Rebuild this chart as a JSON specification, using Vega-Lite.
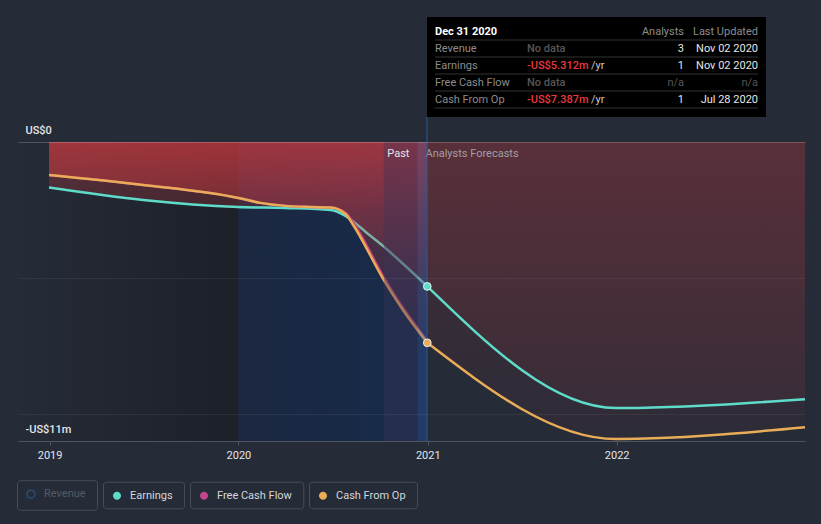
{
  "$schema": "https://vega.github.io/schema/vega-lite/v6.json",
  "width": 787,
  "height": 299,
  "autosize": {"type": "none"},
  "padding": {"left": 18, "top": 142, "right": 16, "bottom": 83},
  "background": "#252b37",
  "config": {
    "view": {"stroke": null},
    "font": "Roboto",
    "text": {"font": "Roboto"},
    "legend": {"labelFont": "Roboto"}
  },
  "datasets": {
    "past": [
      {"date": "2018-12-31", "series": "Earnings", "value": -1.67},
      {"date": "2019-07-01", "series": "Earnings", "value": -2.13},
      {"date": "2020-01-01", "series": "Earnings", "value": -2.39},
      {"date": "2020-04-01", "series": "Earnings", "value": -2.43},
      {"date": "2020-06-27", "series": "Earnings", "value": -2.5},
      {"date": "2020-07-26", "series": "Earnings", "value": -2.72},
      {"date": "2020-08-11", "series": "Earnings", "value": -2.94},
      {"date": "2020-09-03", "series": "Earnings", "value": -3.31},
      {"date": "2020-10-08", "series": "Earnings", "value": -3.85},
      {"date": "2020-11-14", "series": "Earnings", "value": -4.48},
      {"date": "2020-12-31", "series": "Earnings", "value": -5.312},
      {"date": "2018-12-31", "series": "Free Cash Flow", "value": -1.214},
      {"date": "2019-07-01", "series": "Free Cash Flow", "value": -1.58},
      {"date": "2020-01-01", "series": "Free Cash Flow", "value": -2.06},
      {"date": "2020-02-12", "series": "Free Cash Flow", "value": -2.24},
      {"date": "2020-04-01", "series": "Free Cash Flow", "value": -2.35},
      {"date": "2020-05-19", "series": "Free Cash Flow", "value": -2.39},
      {"date": "2020-06-27", "series": "Free Cash Flow", "value": -2.41},
      {"date": "2020-07-26", "series": "Free Cash Flow", "value": -2.6},
      {"date": "2020-08-11", "series": "Free Cash Flow", "value": -3.0},
      {"date": "2020-10-08", "series": "Free Cash Flow", "value": -4.98},
      {"date": "2020-11-14", "series": "Free Cash Flow", "value": -6.1},
      {"date": "2020-12-31", "series": "Free Cash Flow", "value": -7.33},
      {"date": "2018-12-31", "series": "Cash From Op", "value": -1.214},
      {"date": "2019-07-01", "series": "Cash From Op", "value": -1.58},
      {"date": "2020-01-01", "series": "Cash From Op", "value": -2.06},
      {"date": "2020-02-12", "series": "Cash From Op", "value": -2.24},
      {"date": "2020-04-01", "series": "Cash From Op", "value": -2.35},
      {"date": "2020-05-19", "series": "Cash From Op", "value": -2.39},
      {"date": "2020-06-27", "series": "Cash From Op", "value": -2.41},
      {"date": "2020-07-26", "series": "Cash From Op", "value": -2.65},
      {"date": "2020-08-11", "series": "Cash From Op", "value": -3.09},
      {"date": "2020-10-08", "series": "Cash From Op", "value": -5.08},
      {"date": "2020-11-14", "series": "Cash From Op", "value": -6.18},
      {"date": "2020-12-31", "series": "Cash From Op", "value": -7.387}
    ],
    "forecast": [
      {"date": "2020-12-31", "series": "Earnings", "value": -5.312},
      {"date": "2021-12-31", "series": "Earnings", "value": -9.79},
      {"date": "2022-12-31", "series": "Earnings", "value": -9.46},
      {"date": "2020-12-31", "series": "Cash From Op", "value": -7.387},
      {"date": "2021-12-31", "series": "Cash From Op", "value": -10.93},
      {"date": "2022-12-31", "series": "Cash From Op", "value": -10.49}
    ],
    "regions": [
      {"zone": "early", "start": "2018-11-01", "end": "2020-01-01"},
      {"zone": "lastYear", "start": "2020-01-01", "end": "2020-12-31"},
      {"zone": "recent", "start": "2020-10-08", "end": "2020-12-12"},
      {"zone": "today", "start": "2020-12-12", "end": "2020-12-31"}
    ],
    "tip": [
      {"row": "header", "label": "Dec 31 2020", "estimate": "", "unit": "", "analysts": "Analysts", "updated": "Last Updated"},
      {"row": "Revenue", "label": "Revenue", "estimate": "No data", "unit": "", "analysts": "3", "updated": "Nov 02 2020"},
      {"row": "Earnings", "label": "Earnings", "estimate": "-US$5.312m", "unit": "/yr", "analysts": "1", "updated": "Nov 02 2020"},
      {"row": "Free Cash Flow", "label": "Free Cash Flow", "estimate": "No data", "unit": "", "analysts": "n/a", "updated": "n/a"},
      {"row": "Cash From Op", "label": "Cash From Op", "estimate": "-US$7.387m", "unit": "/yr", "analysts": "1", "updated": "Jul 28 2020"}
    ]
  },
  "layer": [
    {
      "layer": [
        {
          "data": {"name": "regions"},
          "transform": [{"filter": "datum.zone == 'early'"}],
          "mark": {"type": "rect", "color": {"gradient": "linear", "x1": 0, "y1": 0, "x2": 1, "y2": 0, "stops": [{"offset": 0, "color": "#252b37"}, {"offset": 1, "color": "#1d2029"}]}},
          "encoding": {
            "x": {"field": "start", "type": "temporal", "title": null,
              "scale": {"type": "utc", "nice": false, "domain": [{"year": 2018, "month": 11, "date": 1, "utc": true}, {"year": 2022, "month": 12, "date": 31, "utc": true}]},
              "axis": {"values": [{"year": 2019, "month": 1, "date": 1, "utc": true}, {"year": 2020, "month": 1, "date": 1, "utc": true}, {"year": 2021, "month": 1, "date": 1, "utc": true}, {"year": 2022, "month": 1, "date": 1, "utc": true}], "format": "%Y", "grid": false, "domainColor": "#4e5460", "tickColor": "#4e5460", "tickSize": 4, "labelColor": "#e4e6ea", "labelFontSize": 11, "labelPadding": 4, "labelFlush": false, "zindex": 1}},
            "x2": {"field": "end"}
          }
        },
        {
          "data": {"name": "regions"},
          "transform": [{"filter": "datum.zone == 'lastYear'"}],
          "mark": {"type": "rect", "color": {"gradient": "linear", "x1": 0, "y1": 0, "x2": 1, "y2": 0, "stops": [{"offset": 0, "color": "#1c2840"}, {"offset": 1, "color": "#162b4c"}]}},
          "encoding": {
            "x": {"field": "start", "type": "temporal", "title": null},
            "x2": {"field": "end"}
          }
        },
        {
          "data": {"name": "past"},
          "transform": [{"filter": "datum.series == 'Earnings'"}],
          "mark": {"type": "area", "interpolate": "monotone", "color": {"gradient": "linear", "x1": 0, "y1": 0, "x2": 0, "y2": 1, "stops": [{"offset": 0, "color": "rgba(204,58,64,0.34)"}, {"offset": 1, "color": "rgba(204,58,64,0.08)"}]}},
          "encoding": {
            "x": {"field": "date", "type": "temporal", "title": null},
            "y": {"field": "value", "type": "quantitative", "title": null,
              "scale": {"domain": [-11, 0], "nice": false, "zero": false},
              "axis": {"values": [0, -5, -10, -11], "labelExpr": "datum.value == 0 ? 'US$0' : datum.value == -11 ? '-US$11m' : ''", "domain": false, "ticks": false, "grid": true, "gridColor": "#ffffff", "gridOpacity": {"condition": {"test": "datum.value == 0", "value": 0.2}, "value": 0.06}, "labelAlign": "left", "labelPadding": -7, "labelOffset": -9, "labelBaseline": "alphabetic", "labelColor": "#e4e6ea", "labelFontSize": 11, "labelFontWeight": 500, "zindex": 1}},
            "y2": {"datum": 0}
          }
        },
        {
          "data": {"name": "past"},
          "transform": [{"filter": "datum.series == 'Earnings'"}],
          "mark": {"type": "line", "interpolate": "monotone", "strokeWidth": 2.5},
          "encoding": {
            "x": {"field": "date", "type": "temporal", "title": null},
            "y": {"field": "value", "type": "quantitative", "title": null},
            "color": {"field": "series", "type": "nominal",
              "scale": {"domain": ["Revenue", "Earnings", "Free Cash Flow", "Cash From Op"], "range": ["#2b4d75", "#5fdcc9", "#c4468a", "#eaad57"]},
              "legend": {"orient": "none", "legendX": -1, "legendY": 338, "direction": "horizontal", "columns": 4, "title": null,
                "symbolType": "M-0.93,-0.93M0.93,0.93M-0.31,0A0.31,0.31 0 1,1 0.31,0A0.31,0.31 0 1,1 -0.31,0Z",
                "symbolSize": 676, "symbolStrokeWidth": 1.5, "labelColor": "#d4d7dc", "labelFontSize": 11, "labelOffset": -1, "columnPadding": 5,
                "labelExpr": "datum.label + '\u00a0\u00a0\u00a0\u00a0\u200b'",
                "encode": {
                  "symbols": {"update": {"fill": {"signal": "scale('color', datum.value)"}, "fillOpacity": {"signal": "datum.value === 'Revenue' ? 0 : 1"}, "stroke": {"signal": "scale('color', datum.value)"}, "strokeOpacity": {"signal": "datum.value === 'Revenue' ? 1 : 0"}, "opacity": {"value": 1}}},
                  "labels": {"update": {"fill": {"signal": "datum.value === 'Revenue' ? '#555b66' : '#d4d7dc'"}}},
                  "entries": {"update": {"stroke": {"signal": "datum.value === 'Revenue' ? '#30363f' : '#474d59'"}, "strokeWidth": {"value": 1}, "cornerRadius": {"value": 3}}}
                }}}
          }
        },
        {
          "data": {"name": "past"},
          "transform": [{"filter": "datum.series == 'Free Cash Flow'"}],
          "mark": {"type": "line", "interpolate": "monotone", "strokeWidth": 2.5},
          "encoding": {
            "x": {"field": "date", "type": "temporal", "title": null},
            "y": {"field": "value", "type": "quantitative", "title": null},
            "color": {"field": "series", "type": "nominal"}
          }
        },
        {
          "data": {"name": "past"},
          "transform": [{"filter": "datum.series == 'Cash From Op'"}],
          "mark": {"type": "area", "interpolate": "monotone", "color": {"gradient": "linear", "x1": 0, "y1": 0, "x2": 0, "y2": 1, "stops": [{"offset": 0, "color": "rgba(204,58,64,0.6)"}, {"offset": 0.35, "color": "rgba(204,58,64,0.33)"}, {"offset": 1, "color": "rgba(204,58,64,0.07)"}]}},
          "encoding": {
            "x": {"field": "date", "type": "temporal", "title": null},
            "y": {"field": "value", "type": "quantitative", "title": null},
            "y2": {"datum": 0}
          }
        },
        {
          "data": {"name": "past"},
          "transform": [{"filter": "datum.series == 'Cash From Op'"}],
          "mark": {"type": "line", "interpolate": "monotone", "strokeWidth": 2.5},
          "encoding": {
            "x": {"field": "date", "type": "temporal", "title": null},
            "y": {"field": "value", "type": "quantitative", "title": null},
            "color": {"field": "series", "type": "nominal"}
          }
        },
        {
          "data": {"name": "forecast"},
          "transform": [{"filter": "datum.series == 'Earnings'"}],
          "mark": {"type": "area", "interpolate": "monotone", "color": {"gradient": "linear", "x1": 0, "y1": 0, "x2": 0, "y2": 1, "stops": [{"offset": 0, "color": "rgba(204,58,64,0.17)"}, {"offset": 1, "color": "rgba(204,58,64,0.06)"}]}},
          "encoding": {
            "x": {"field": "date", "type": "temporal", "title": null},
            "y": {"field": "value", "type": "quantitative", "title": null},
            "y2": {"datum": 0}
          }
        },
        {
          "data": {"name": "forecast"},
          "transform": [{"filter": "datum.series == 'Cash From Op'"}],
          "mark": {"type": "area", "interpolate": "monotone", "color": {"gradient": "linear", "x1": 0, "y1": 0, "x2": 0, "y2": 1, "stops": [{"offset": 0, "color": "rgba(204,58,64,0.17)"}, {"offset": 1, "color": "rgba(204,58,64,0.05)"}]}},
          "encoding": {
            "x": {"field": "date", "type": "temporal", "title": null},
            "y": {"field": "value", "type": "quantitative", "title": null},
            "y2": {"datum": 0}
          }
        },
        {
          "data": {"name": "regions"},
          "transform": [{"filter": "datum.zone == 'recent'"}],
          "mark": {"type": "rect", "color": "#3f3558", "opacity": 0.4},
          "encoding": {
            "x": {"field": "start", "type": "temporal", "title": null},
            "x2": {"field": "end"}
          }
        },
        {
          "data": {"name": "regions"},
          "transform": [{"filter": "datum.zone == 'today'"}],
          "mark": {"type": "rect", "color": "#3a5c9a", "opacity": 0.35},
          "encoding": {
            "x": {"field": "start", "type": "temporal", "title": null},
            "x2": {"field": "end"}
          }
        },
        {
          "data": {"name": "forecast"},
          "transform": [{"filter": "datum.series == 'Earnings'"}],
          "mark": {"type": "line", "interpolate": "monotone", "strokeWidth": 2.5},
          "encoding": {
            "x": {"field": "date", "type": "temporal", "title": null},
            "y": {"field": "value", "type": "quantitative", "title": null},
            "color": {"field": "series", "type": "nominal"}
          }
        },
        {
          "data": {"name": "forecast"},
          "transform": [{"filter": "datum.series == 'Cash From Op'"}],
          "mark": {"type": "line", "interpolate": "monotone", "strokeWidth": 2.5},
          "encoding": {
            "x": {"field": "date", "type": "temporal", "title": null},
            "y": {"field": "value", "type": "quantitative", "title": null},
            "color": {"field": "series", "type": "nominal"}
          }
        },
        {
          "data": {"values": [{"label": "Past", "date": "2020-12-12"}]},
          "mark": {"type": "text", "align": "right", "baseline": "top", "dx": -8, "dy": 6, "color": "#e6e6e6", "fontSize": 11},
          "encoding": {
            "x": {"field": "date", "type": "temporal", "title": null},
            "y": {"datum": 0, "type": "quantitative", "title": null},
            "text": {"field": "label"}
          }
        },
        {
          "data": {"values": [{"label": "Analysts Forecasts", "date": "2020-12-12"}]},
          "mark": {"type": "text", "align": "left", "baseline": "top", "dx": 8, "dy": 6, "color": "#a29ea6", "fontSize": 11},
          "encoding": {
            "x": {"field": "date", "type": "temporal", "title": null},
            "y": {"datum": 0, "type": "quantitative", "title": null},
            "text": {"field": "label"}
          }
        }
      ]
    },
    {
      "layer": [
        {
          "data": {"values": [{"date": "2020-12-31"}]},
          "layer": [
            {
              "mark": {"type": "rule", "color": "#2b5a90", "strokeWidth": 1},
              "encoding": {
                "x": {"datum": 0, "type": "quantitative", "axis": null, "scale": {"domain": [0, 339], "range": [409, 748], "nice": false, "zero": false}},
                "y": {"datum": 100, "type": "quantitative", "axis": null, "scale": {"domain": [0, 424], "range": [-125, 299], "nice": false, "zero": false}},
                "y2": {"datum": 424}
              }
            },
            {
              "mark": {"type": "rect", "color": "#000000"},
              "encoding": {
                "x": {"datum": 0, "type": "quantitative", "axis": null},
                "x2": {"datum": 339},
                "y": {"datum": 0, "type": "quantitative", "axis": null},
                "y2": {"datum": 100}
              }
            }
          ]
        },
        {
          "data": {"name": "tip"},
          "encoding": {
            "y": {"field": "row", "type": "nominal", "axis": null, "scale": {"type": "band", "domain": ["header", "Revenue", "Earnings", "Free Cash Flow", "Cash From Op"], "range": [-119, -34], "paddingInner": 0, "paddingOuter": 0}}
          },
          "layer": [
            {
              "mark": {"type": "rule", "color": "#333333", "strokeWidth": 1},
              "encoding": {
                "x": {"datum": 8, "type": "quantitative", "axis": null},
                "x2": {"datum": 331},
                "y": {"field": "row", "type": "nominal", "axis": null, "bandPosition": 1}
              }
            },
            {
              "transform": [{"filter": "datum.row == 'header'"}],
              "mark": {"type": "text", "align": "left", "baseline": "middle", "fontSize": 11, "fontWeight": "bold", "color": "#ffffff"},
              "encoding": {
                "x": {"datum": 8, "type": "quantitative", "axis": null},
                "text": {"field": "label"}
              }
            },
            {
              "transform": [{"filter": "datum.row != 'header'"}],
              "mark": {"type": "text", "align": "left", "baseline": "middle", "fontSize": 11},
              "encoding": {
                "x": {"datum": 8, "type": "quantitative", "axis": null},
                "text": {"field": "label"},
                "color": {"value": "#8c8c8c"}
              }
            },
            {
              "mark": {"type": "text", "align": "left", "baseline": "middle", "fontSize": 11, "fontWeight": 500},
              "encoding": {
                "x": {"datum": 100, "type": "quantitative", "axis": null},
                "text": {"field": "estimate"},
                "color": {"condition": {"test": "datum.estimate == 'No data'", "value": "#575757"}, "value": "#e8383d"}
              }
            },
            {
              "mark": {"type": "text", "align": "left", "baseline": "middle", "fontSize": 11, "color": "#c8c8c8"},
              "encoding": {
                "x": {"datum": 164, "type": "quantitative", "axis": null},
                "text": {"field": "unit"}
              }
            },
            {
              "mark": {"type": "text", "align": "right", "baseline": "middle", "fontSize": 11},
              "encoding": {
                "x": {"datum": 257, "type": "quantitative", "axis": null},
                "text": {"field": "analysts"},
                "color": {"condition": [{"test": "datum.row == 'header'", "value": "#8c8c8c"}, {"test": "datum.analysts == 'n/a'", "value": "#575757"}], "value": "#e6e6e6"}
              }
            },
            {
              "mark": {"type": "text", "align": "right", "baseline": "middle", "fontSize": 11},
              "encoding": {
                "x": {"datum": 331, "type": "quantitative", "axis": null},
                "text": {"field": "updated"},
                "color": {"condition": [{"test": "datum.row == 'header'", "value": "#8c8c8c"}, {"test": "datum.updated == 'n/a'", "value": "#575757"}], "value": "#e6e6e6"}
              }
            }
          ]
        }
      ],
      "resolve": {"scale": {"y": "independent"}}
    },
    {
      "data": {"name": "forecast"},
      "transform": [{"filter": "utcyear(datum.date) == 2020"}],
      "mark": {"type": "circle", "size": 60, "stroke": "#eeeeee", "strokeWidth": 1, "opacity": 1},
      "encoding": {
        "x": {"field": "date", "type": "temporal", "axis": null, "scale": {"type": "utc", "nice": false, "domain": [{"year": 2018, "month": 11, "date": 1, "utc": true}, {"year": 2022, "month": 12, "date": 31, "utc": true}]}},
        "y": {"field": "value", "type": "quantitative", "axis": null, "scale": {"domain": [-11, 0], "nice": false, "zero": false}},
        "color": {"field": "series", "type": "nominal", "legend": null}
      }
    }
  ],
  "resolve": {"scale": {"x": "independent", "y": "independent"}}
}
